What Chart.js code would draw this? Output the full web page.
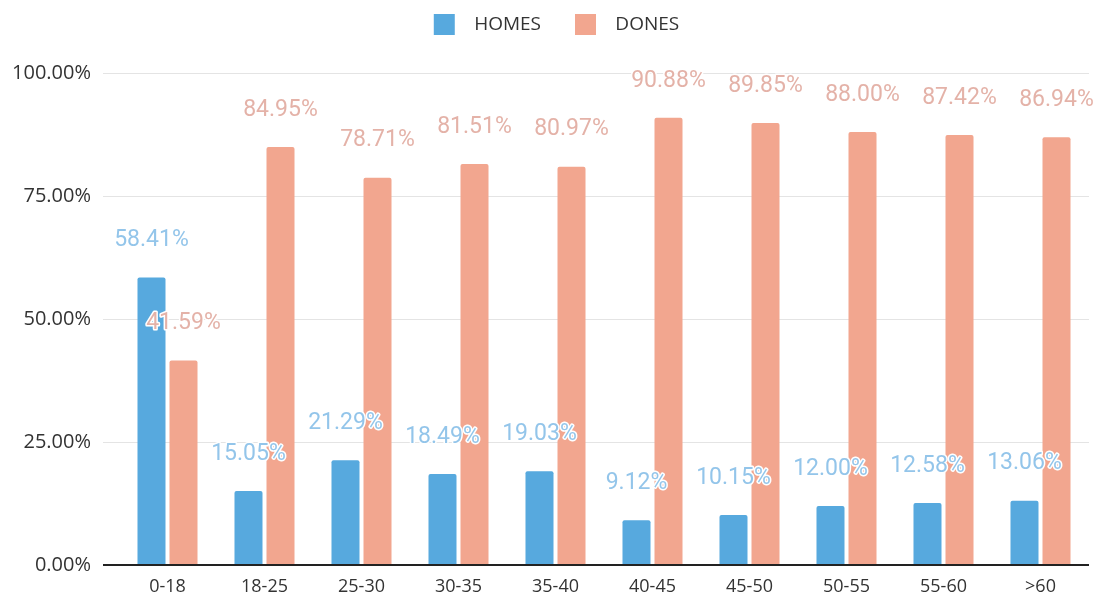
<!DOCTYPE html>
<html>
<head>
<meta charset="utf-8">
<script src="https://cdn.jsdelivr.net/npm/chart.js@4"></script>
<style>
  html, body { margin: 0; padding: 0; background: #fff; }
  #wrap { width: 1094px; height: 596px; }
</style>
</head>
<body>
<div id="wrap"><canvas id="myChart" width="1094" height="596"></canvas></div>
<script>
var categorias = ['0-18', '18-25', '25-30', '30-35', '35-40', '40-45', '45-50', '50-55', '55-60', '>60'];
var homes = [58.41, 15.05, 21.29, 18.49, 19.03, 9.12, 10.15, 12.00, 12.58, 13.06];
var dones = [41.59, 84.95, 78.71, 81.51, 80.97, 90.88, 89.85, 88.00, 87.42, 86.94];
var ticksY = [0, 25, 50, 75, 100];

var colorBarra = ['#57a9de', '#f2a68f'];
var colorEtiqueta = ['#93c5ea', '#e4b2a8'];

// etiquetas encima de cada barra, con halo blanco
var etiquetas = {
    id: 'etiquetas',
    afterDatasetsDraw: function(chart) {
        var ctx = chart.ctx;
        ctx.save();
        ctx.font = '23px Roboto';
        ctx.textAlign = 'center';
        ctx.textBaseline = 'middle';
        ctx.lineJoin = 'round';
        chart.data.datasets.forEach(function(ds, i) {
            var meta = chart.getDatasetMeta(i);
            meta.data.forEach(function(bar, j) {
                var txt = ds.data[j].toFixed(2) + '%';
                var y = bar.y - 37;
                ctx.lineWidth = 3;
                ctx.strokeStyle = '#ffffff';
                ctx.strokeText(txt, bar.x, y);
                ctx.fillStyle = colorEtiqueta[i];
                ctx.fillText(txt, bar.x, y);
            });
        });
        ctx.restore();
    }
};

// alto fijo de la leyenda, y la movemos un poco
var ajusteLeyenda = {
    id: 'ajusteLeyenda',
    beforeInit: function(chart) {
        var fit = chart.legend.fit;
        chart.legend.fit = function() {
            fit.bind(chart.legend)();
            this.height = 69;
        };
    },
    afterLayout: function(chart) {
        chart.legend.top = -20;
        chart.legend.left += 12;
        chart.legend.right += 12;
    }
};

var ctx = document.getElementById('myChart').getContext('2d');
var chart = new Chart(ctx, {
    type: 'bar',
    data: {
        labels: categorias,
        datasets: [{
            label: 'HOMES',
            backgroundColor: colorBarra[0],
            data: homes,
            categoryPercentage: 0.66,
            barPercentage: 0.875,
            borderRadius: 2
        }, {
            label: 'DONES',
            backgroundColor: colorBarra[1],
            data: dones,
            categoryPercentage: 0.66,
            barPercentage: 0.875,
            borderRadius: 2
        }]
    },
    options: {
        responsive: false,
        animation: false,
        layout: { padding: { top: 4, right: 5, left: 0, bottom: 0 } },
        plugins: {
            tooltip: { enabled: false },
            legend: {
                position: 'top',
                labels: {
                    boxWidth: 21,
                    boxHeight: 21,
                    padding: 34,
                    color: '#333',
                    font: { family: 'Open Sans', size: 19 },
                    generateLabels: function(chart) {
                        var items = Chart.defaults.plugins.legend.labels.generateLabels(chart);
                        items.forEach(function(it) { it.text = '  ' + it.text; });
                        return items;
                    }
                }
            }
        },
        scales: {
            x: {
                grid: { display: false },
                border: { display: false },
                ticks: {
                    color: '#333',
                    padding: 3,
                    font: { family: 'Open Sans', size: 18 }
                },
                afterFit: function(s) { s.height = 31; }
            },
            y: {
                min: 0,
                max: 100,
                afterBuildTicks: function(s) {
                    s.ticks = ticksY.map(function(v) { return { value: v }; });
                },
                border: { display: false },
                grid: {
                    tickLength: 16,
                    color: function(c) { return c.tick && c.tick.value === 0 ? '#222' : '#e4e4e4'; },
                    lineWidth: function(c) { return c.tick && c.tick.value === 0 ? 2 : 1; }
                },
                ticks: {
                    color: '#333',
                    padding: 12,
                    font: { family: 'Open Sans', size: 20 },
                    callback: function(v) { return v.toFixed(2) + '%'; }
                },
                afterFit: function(s) { s.width = 119; }
            }
        }
    },
    plugins: [etiquetas, ajusteLeyenda]
});
</script>
</body>
</html>
